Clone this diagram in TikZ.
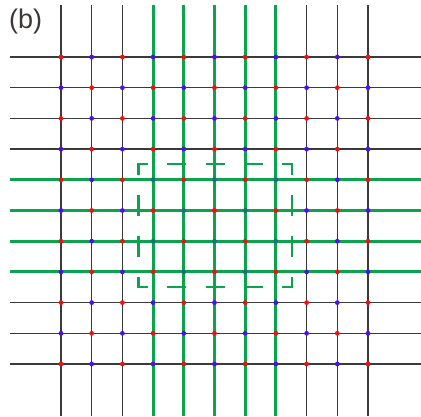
\documentclass[tikz,border=0pt]{standalone}
\usepackage{fontspec}
\setmainfont{Liberation Sans}
\definecolor{gridblack}{HTML}{3A3A3A}
\definecolor{lattgreen}{HTML}{0CA34E}
\definecolor{dotred}{HTML}{F01010}
\definecolor{dotblue}{HTML}{4A10F0}
\definecolor{dotteal}{HTML}{1E6E7E}
\definecolor{labelgray}{HTML}{3C3835}
\begin{document}
\begin{tikzpicture}[x=1pt,y=-1pt,
  gridline/.style={draw=gridblack,line width=1.2pt},
  greenline/.style={draw=lattgreen,line width=3pt},
  dashbox/.style={draw=lattgreen,line width=2.4pt},
  reddot/.style={fill=dotred},
  bluedot/.style={fill=dotblue},
  tealdot/.style={fill=dotteal}]
\useasboundingbox (0,0) rectangle (421,417);
% black grid
\foreach \i in {0,...,10}{
  \pgfmathsetmacro{\p}{61+30.7*\i}
  \draw[gridline] (\p,5) -- (\p,416);
  \draw[gridline] (10,{57+30.7*\i}) -- (421,{57+30.7*\i});
}
% green lines
\foreach \i in {3,...,7}{
  \draw[greenline] ({61+30.7*\i},5) -- ({61+30.7*\i},416);
}
\foreach \j in {4,...,7}{
  \draw[greenline] (10,{57+30.7*\j}) -- (421,{57+30.7*\j});
}
% dots
\foreach \i in {0,...,10}{
  \foreach \j in {0,...,10}{
    \pgfmathtruncatemacro{\parity}{mod(\i+\j,2)}
    \pgfmathtruncatemacro{\ing}{(\i>2)*(\i<8)*(\j>3)*(\j<8)}
    \ifnum\parity=0
      \fill[reddot] ({61+30.7*\i},{57+30.7*\j}) circle (2.4);
    \else
      \ifnum\ing=1
        \fill[tealdot] ({61+30.7*\i},{57+30.7*\j}) circle (2.4);
      \else
        \fill[bluedot] ({61+30.7*\i},{57+30.7*\j}) circle (2.4);
      \fi
    \fi
  }
}
% dashed square: corners
\draw[dashbox] (148,164.3) -- (138.3,164.3) -- (138.3,174.6);
\draw[dashbox] (282,164.3) -- (291.7,164.3) -- (291.7,174.6);
\draw[dashbox] (138.3,276.7) -- (138.3,287) -- (148,287);
\draw[dashbox] (291.7,276.7) -- (291.7,287) -- (282,287);
% top and bottom dashes
\foreach \c in {176.7,215.1,253.5}{
  \draw[dashbox] ({\c-9.6},164.3) -- ({\c+9.6},164.3);
  \draw[dashbox] ({\c-9.6},287) -- ({\c+9.6},287);
}
% left and right dashes
\foreach \c in {205.6,246.6}{
  \draw[dashbox] (138.3,{\c-10.2}) -- (138.3,{\c+10.2});
  \draw[dashbox] (291.7,{\c-10.2}) -- (291.7,{\c+10.2});
}
% label
\node[anchor=base west,inner sep=0pt,text=labelgray,font=\fontsize{27}{30}\selectfont] (lbl) at (9,29) {(b)};
\end{tikzpicture}
\end{document}
